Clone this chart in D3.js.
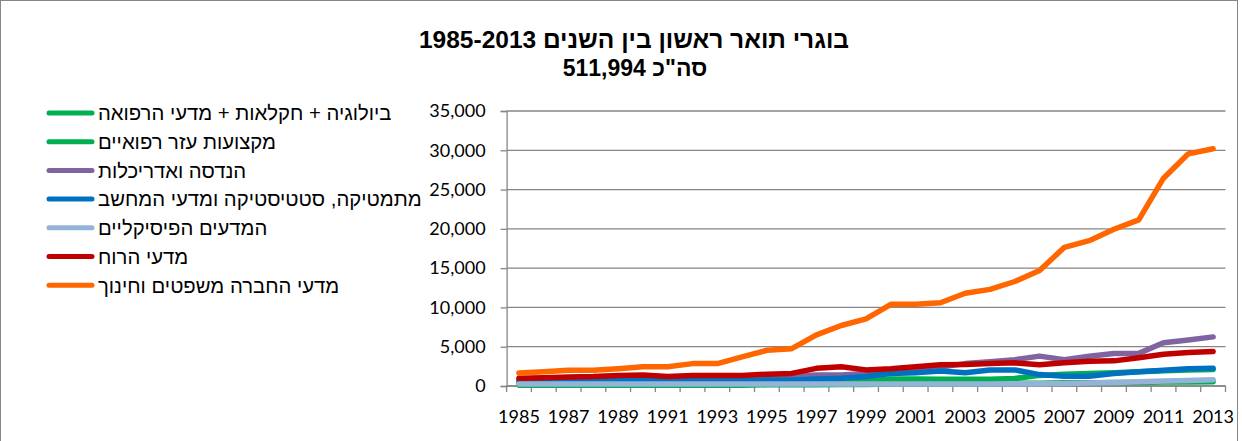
<!DOCTYPE html>
<html>
<head>
    <meta charset="utf-8">
    <title>בוגרי תואר ראשון</title>
    <script src="https://d3js.org/d3.v7.min.js"></script>
    <style>
        body { margin: 0; background: #fff; }
    </style>
</head>
<body>
<div id="my_dataviz"></div>

<script>
    // data
    var years = d3.range(1985, 2014);
    var yTicks = [0, 5000, 10000, 15000, 20000, 25000, 30000, 35000];
    var xLabels = d3.range(1985, 2014, 2);

    var seriesNames = [
        "ביולוגיה + חקלאות + מדעי הרפואה",
        "מקצועות עזר רפואיים",
        "הנדסה ואדריכלות",
        "מתמטיקה, סטטיסטיקה ומדעי המחשב",
        "המדעים הפיסיקליים",
        "מדעי הרוח",
        "מדעי החברה משפטים וחינוך"
    ];
    var seriesColors = ["#00B050", "#00B050", "#8064A2", "#0070C0", "#95B3D7", "#C00000", "#FF6600"];

    var biology = [450,450,450,500,500,500,450,500,500,500,500,500,550,550,600,900,900,850,850,850,950,1350,1500,1600,1700,1800,1950,2050,2100];
    var paramedical = [100,100,100,100,100,100,100,100,100,100,150,150,150,200,200,250,250,300,300,300,350,350,400,400,450,450,500,500,550];
    var engineering = [850,900,950,1000,1050,1100,1000,1100,1100,1100,1000,1200,1400,1400,1600,1800,2000,2400,2850,3100,3350,3800,3350,3800,4150,4150,5500,5850,6250];
    var mathCs = [650,650,650,700,700,750,700,700,700,700,750,750,900,1000,1200,1600,1700,1900,1700,2050,2050,1450,1250,1250,1600,1800,2000,2200,2250];
    var physical = [250,250,250,250,250,250,250,250,250,250,250,250,250,250,250,250,250,250,250,260,280,300,320,380,450,550,650,700,800];
    var humanities = [1000,1050,1150,1200,1350,1400,1200,1350,1350,1350,1500,1600,2250,2450,2050,2200,2450,2700,2750,2850,2950,2700,2950,3150,3200,3600,4050,4250,4400];
    var social = [1650,1800,2000,2000,2200,2450,2450,2850,2850,3700,4550,4750,6500,7700,8550,10400,10400,10600,11800,12300,13300,14700,17650,18500,19950,21150,26450,29550,30200];

    var seriesValues = [biology, paramedical, engineering, mathCs, physical, humanities, social];

    var width = 1242, height = 441;
    var plot = {left: 506.6, right: 1225.5, top: 111, bottom: 386};
    var gridColor = "#868686";

    var svg = d3.select("#my_dataviz")
        .append("svg")
        .attr("width", width)
        .attr("height", height);

    // chart frame
    svg.append("rect")
        .attr("x", 0.5).attr("y", 0.5)
        .attr("width", 1237).attr("height", 470)
        .attr("fill", "none")
        .attr("stroke", gridColor)
        .attr("stroke-width", 1);

    var x = d3.scaleBand()
        .domain(years)
        .range([plot.left, plot.right])
        .padding(0);

    var y = d3.scaleLinear()
        .domain([0, 35000])
        .range([plot.bottom, plot.top]);

    // gridlines
    svg.append("g")
        .selectAll("line")
        .data(yTicks)
        .enter()
        .append("line")
        .attr("x1", plot.left)
        .attr("x2", plot.right)
        .attr("y1", d => y(d))
        .attr("y2", d => y(d))
        .attr("stroke", gridColor)
        .attr("stroke-width", 1.3);

    // Y axis
    var yAxis = svg.append("g")
        .attr("transform", "translate(" + plot.left + ",0)")
        .call(d3.axisLeft(y).tickValues(yTicks).tickFormat(d3.format(",")).tickSize(6).tickPadding(15));
    yAxis.select(".domain").attr("stroke", gridColor).attr("stroke-width", 1.3);
    yAxis.selectAll(".tick line").attr("stroke", gridColor).attr("stroke-width", 1.3);
    yAxis.selectAll("text")
        .attr("font-family", "Lato, 'Open Sans', sans-serif")
        .attr("font-size", "18px")
        .attr("fill", "#000");

    // X axis: ticks on category boundaries, labels every second year
    var xAxis = svg.append("g");
    xAxis.append("line")
        .attr("x1", plot.left).attr("x2", plot.right)
        .attr("y1", plot.bottom).attr("y2", plot.bottom)
        .attr("stroke", gridColor).attr("stroke-width", 1.3);
    xAxis.selectAll(".xtick")
        .data(years.concat([null]))
        .enter()
        .append("line")
        .attr("class", "xtick")
        .attr("x1", d => d === null ? plot.right : x(d))
        .attr("x2", d => d === null ? plot.right : x(d))
        .attr("y1", plot.bottom)
        .attr("y2", plot.bottom + 6)
        .attr("stroke", gridColor).attr("stroke-width", 1.3);
    xAxis.selectAll(".xlabel")
        .data(xLabels)
        .enter()
        .append("text")
        .attr("class", "xlabel")
        .attr("x", d => x(d) + x.bandwidth() / 2)
        .attr("y", 423)
        .attr("text-anchor", "middle")
        .attr("font-family", "Lato, 'Open Sans', sans-serif")
        .attr("font-size", "18px")
        .attr("fill", "#000")
        .text(d => d);

    // lines
    var line = d3.line()
        .x((d, i) => x(years[i]) + x.bandwidth() / 2)
        .y(d => y(d));

    svg.append("g")
        .selectAll("path")
        .data(seriesValues)
        .enter()
        .append("path")
        .attr("d", line)
        .attr("fill", "none")
        .attr("stroke", (d, i) => seriesColors[i])
        .attr("stroke-width", 5.5)
        .attr("stroke-linejoin", "round")
        .attr("stroke-linecap", "round");

    // legend
    var legend = svg.append("g")
        .selectAll("g")
        .data(seriesNames)
        .enter()
        .append("g")
        .attr("transform", (d, i) => "translate(0," + (113 + i * 28.7) + ")");
    legend.append("line")
        .attr("x1", 49).attr("x2", 92)
        .attr("y1", 0).attr("y2", 0)
        .attr("stroke", (d, i) => seriesColors[i])
        .attr("stroke-width", 5)
        .attr("stroke-linecap", "round");
    legend.append("text")
        .attr("x", 98)
        .attr("y", 0)
        .attr("dy", "0.36em")
        .attr("direction", "rtl")
        .attr("text-anchor", "end")
        .attr("font-family", "'Liberation Sans', Arial, 'DejaVu Sans', sans-serif")
        .attr("font-size", "20.3px")
        .attr("fill", "#000")
        .text(d => d);

    // title
    var title = svg.append("g")
        .attr("font-family", "'Liberation Sans', Arial, 'DejaVu Sans', sans-serif")
        .attr("font-weight", "bold")
        .attr("fill", "#000")
        .attr("text-anchor", "middle")
        .attr("direction", "rtl");
    title.append("text").attr("x", 634).attr("y", 48).attr("font-size", "24.5px")
        .text("בוגרי תואר ראשון בין השנים 1985-2013");
    title.append("text").attr("x", 635).attr("y", 76).attr("font-size", "23px")
        .text("סה\"כ 511,994");
</script>
</body>
</html>
